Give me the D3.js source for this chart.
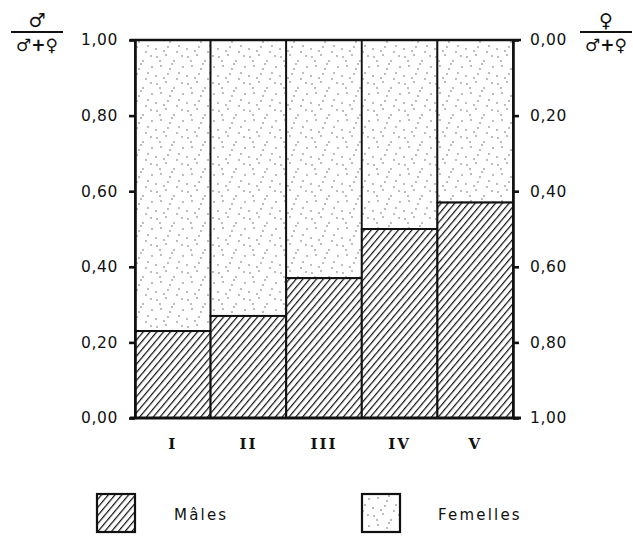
<!DOCTYPE html>
<html>
<head>
<meta charset="utf-8">
<script src="https://cdn.jsdelivr.net/npm/d3@7"></script>
<style>
  html, body { margin: 0; padding: 0; background: #fff; }
  svg { display: block; }
  text { fill: #111; }
</style>
</head>
<body>
<svg id="chart" width="633" height="538"></svg>
<script>
// Proportion of males per class (rest = females)
const classes = ["I", "II", "III", "IV", "V"];
const maleShare = [0.23, 0.27, 0.37, 0.50, 0.57];
const leftTicks = [0, 0.2, 0.4, 0.6, 0.8, 1.0];
const rightTicks = [0, 0.2, 0.4, 0.6, 0.8, 1.0];
const legendLabels = ["Mâles", "Femelles"];

const svg = d3.select("#chart");
const W = 633, H = 538;
const m = { left: 135, right: 120, top: 40, bottom: 120 };
const x0 = m.left, x1 = W - m.right, y0 = H - m.bottom, y1 = m.top;

const x = d3.scaleBand().domain(classes).range([x0, x1]).padding(0);
const y = d3.scaleLinear().domain([0, 1]).range([y0, y1]);
const yR = d3.scaleLinear().domain([0, 1]).range([y1, y0]);
const fmt = v => d3.format(".2f")(v).replace(".", ",");

const defs = svg.append("defs");
// diagonal hatching for males
const hatch = defs.append("pattern")
  .attr("id", "hatch").attr("patternUnits", "userSpaceOnUse")
  .attr("width", 5.2).attr("height", 5.2)
  .attr("patternTransform", "rotate(40)");
hatch.append("rect").attr("width", 5.2).attr("height", 5.2).attr("fill", "#fff");
hatch.append("line").attr("x1", 0).attr("y1", 0).attr("x2", 0).attr("y2", 5.2)
  .attr("stroke", "#111").attr("stroke-width", 2.4);

// light stipple for females
const stip = defs.append("pattern")
  .attr("id", "stipple").attr("patternUnits", "userSpaceOnUse")
  .attr("width", 31).attr("height", 27);
stip.append("rect").attr("width", 31).attr("height", 27).attr("fill", "#fff");
const dots = [[2,3],[11,1],[19,7],[27,2],[6,12],[15,15],[24,19],[1,22],[9,24],[28,13],[17,10],[5,7],[22,25],[13,20]];
stip.selectAll("circle").data(dots).join("circle")
  .attr("cx", d => d[0]).attr("cy", d => d[1]).attr("r", 0.65)
  .attr("fill", "#444");

const g = svg.append("g");

// female part (top)
g.selectAll("rect.fem").data(classes).join("rect")
  .attr("class", "fem")
  .attr("x", d => x(d)).attr("width", x.bandwidth())
  .attr("y", y(1)).attr("height", (d, i) => y(maleShare[i]) - y(1))
  .attr("fill", "url(#stipple)")
  .attr("stroke", "#111").attr("stroke-width", 1.8);

// male part (bottom)
g.selectAll("rect.male").data(classes).join("rect")
  .attr("class", "male")
  .attr("x", d => x(d)).attr("width", x.bandwidth())
  .attr("y", (d, i) => y(maleShare[i])).attr("height", (d, i) => y(0) - y(maleShare[i]))
  .attr("fill", "url(#hatch)")
  .attr("stroke", "#111").attr("stroke-width", 2);

// left axis
const axL = svg.append("g").attr("transform", `translate(${x0},0)`)
  .call(d3.axisLeft(y).tickValues(leftTicks).tickFormat(fmt).tickSize(6).tickSizeOuter(0).tickPadding(11));
// right axis
const axR = svg.append("g").attr("transform", `translate(${x1},0)`)
  .call(d3.axisRight(yR).tickValues(rightTicks).tickFormat(fmt).tickSize(6).tickSizeOuter(0).tickPadding(11));

[axL, axR].forEach(a => {
  a.select(".domain").attr("stroke", "#111").attr("stroke-width", 2.6);
  a.selectAll(".tick line").attr("stroke", "#111").attr("stroke-width", 2.6);
  a.selectAll(".tick text")
    .attr("font-family", "'DejaVu Sans', sans-serif")
    .attr("font-size", 15.5).attr("letter-spacing", 0.6).attr("fill", "#111");
});

// top and bottom border lines, extended slightly past the axes
svg.append("line").attr("x1", x0 - 5).attr("x2", x1 + 8).attr("y1", y(0)).attr("y2", y(0))
  .attr("stroke", "#111").attr("stroke-width", 2.8);
svg.append("line").attr("x1", x0 - 5).attr("x2", x1 + 8).attr("y1", y(1)).attr("y2", y(1))
  .attr("stroke", "#111").attr("stroke-width", 2.4);

// class labels
svg.append("g").selectAll("text").data(classes).join("text")
  .attr("x", d => x(d) + x.bandwidth() / 2).attr("y", y0 + 31)
  .attr("text-anchor", "middle")
  .attr("font-family", "'DejaVu Serif', serif").attr("font-size", 15).attr("font-weight", "bold")
  .attr("letter-spacing", 2)
  .text(d => d);

// fraction headers
function fraction(cx, num, den) {
  const fg = svg.append("g");
  fg.append("line").attr("x1", cx - 26).attr("x2", cx + 26).attr("y1", 32).attr("y2", 32)
    .attr("stroke", "#111").attr("stroke-width", 1.8);
  fg.append("text").attr("x", cx).attr("y", 27).attr("text-anchor", "middle")
    .attr("font-family", "'DejaVu Sans', sans-serif").attr("font-size", 19).attr("font-weight", "bold")
    .text(num);
  fg.append("text").attr("x", cx).attr("y", 51).attr("text-anchor", "middle")
    .attr("font-family", "'DejaVu Sans', sans-serif").attr("font-size", 17).attr("font-weight", "bold")
    .text(den);
}
fraction(37, "\u2642", "\u2642+\u2640");
fraction(606, "\u2640", "\u2642+\u2640");

// legend
const legend = [
  { label: legendLabels[0], fill: "url(#hatch)", bx: 97, tx: 174 },
  { label: legendLabels[1], fill: "url(#stipple)", bx: 362, tx: 438 }
];
const lg = svg.append("g").selectAll("g").data(legend).join("g");
lg.append("rect").attr("x", d => d.bx).attr("y", 494).attr("width", 38).attr("height", 38)
  .attr("fill", d => d.fill).attr("stroke", "#111").attr("stroke-width", 2.2);
lg.append("text").attr("x", d => d.tx).attr("y", 520)
  .attr("font-family", "'DejaVu Sans', sans-serif").attr("font-size", 15)
  .attr("letter-spacing", 2.2)
  .text(d => d.label);
</script>
</body>
</html>
